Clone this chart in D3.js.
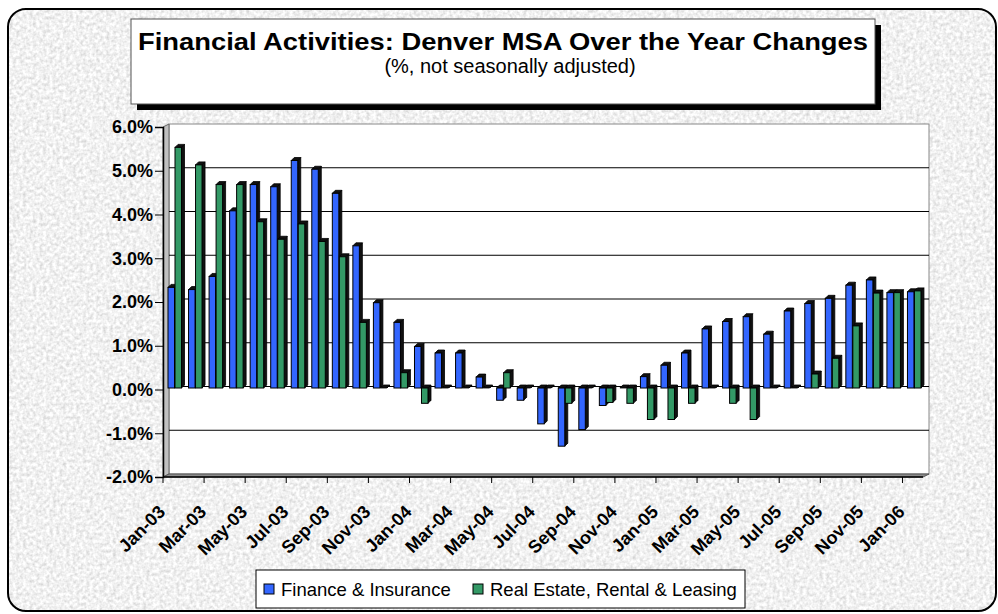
<!DOCTYPE html>
<html>
<head>
<meta charset="utf-8">
<script src="https://cdn.jsdelivr.net/npm/d3@7"></script>
<style>
  body { margin: 0; background: #fff; }
  text { font-family: "Liberation Sans", Arial, sans-serif; }
</style>
</head>
<body>
<div id="chart"></div>
<script>
// data
const months = ["Jan-03","Feb-03","Mar-03","Apr-03","May-03","Jun-03","Jul-03","Aug-03","Sep-03","Oct-03","Nov-03","Dec-03",
  "Jan-04","Feb-04","Mar-04","Apr-04","May-04","Jun-04","Jul-04","Aug-04","Sep-04","Oct-04","Nov-04","Dec-04",
  "Jan-05","Feb-05","Mar-05","Apr-05","May-05","Jun-05","Jul-05","Aug-05","Sep-05","Oct-05","Nov-05","Dec-05",
  "Jan-06"];
const financeInsurance = [2.3, 2.25, 2.55, 4.05, 4.65, 4.6, 5.2, 5.0, 4.45, 3.25, 1.95, 1.5,
  0.95, 0.8, 0.8, 0.25, -0.28, -0.28, -0.82, -1.33, -0.95, -0.4, 0, 0.26,
  0.52, 0.8, 1.35, 1.52, 1.63, 1.23, 1.76, 1.93, 2.05, 2.35, 2.47, 2.18, 2.2];
const realEstate = [5.5, 5.1, 4.65, 4.65, 3.8, 3.4, 3.75, 3.35, 3.0, 1.5, 0, 0.35,
  -0.35, 0, 0, 0, 0.35, 0, 0, -0.35, 0, -0.33, -0.35, -0.72,
  -0.72, -0.35, 0, -0.35, -0.72, 0, 0, 0.32, 0.68, 1.42, 2.17, 2.18, 2.22];
const seriesNames = ["Finance & Insurance", "Real Estate, Rental & Leasing"];
const yTicks = [-2, -1, 0, 1, 2, 3, 4, 5, 6];

const W = 998, H = 614;
const colors = ["#3366ff", "#339966"];

const svg = d3.select("#chart").append("svg")
    .attr("width", W).attr("height", H);

// background texture (speckled gray)
const defs = svg.append("defs");
const f = defs.append("filter").attr("id", "noise").attr("x", 0).attr("y", 0).attr("width", "100%").attr("height", "100%");
f.append("feTurbulence").attr("type", "fractalNoise").attr("baseFrequency", 0.3).attr("numOctaves", 2).attr("seed", 4);
f.append("feColorMatrix").attr("type", "matrix")
    .attr("values", "0.6 0 0 0 0.58  0.6 0 0 0 0.58  0.6 0 0 0 0.58  0 0 0 0 1");
defs.append("clipPath").attr("id", "outer")
    .append("rect").attr("x", 8).attr("y", 9).attr("width", 988).attr("height", 602).attr("rx", 18);

svg.append("rect").attr("x", 8).attr("y", 9).attr("width", 988).attr("height", 602)
    .attr("clip-path", "url(#outer)").attr("filter", "url(#noise)");
svg.append("rect").attr("x", 8).attr("y", 9).attr("width", 988).attr("height", 602).attr("rx", 18)
    .attr("fill", "none").attr("stroke", "#000").attr("stroke-width", 2);

// title box
svg.append("rect").attr("x", 137).attr("y", 25).attr("width", 744).attr("height", 85).attr("fill", "#000");
svg.append("rect").attr("x", 131).attr("y", 19).attr("width", 744).attr("height", 85)
    .attr("fill", "#fff").attr("stroke", "#555").attr("stroke-width", 1);
svg.append("text").attr("x", 503).attr("y", 50).attr("text-anchor", "middle")
    .attr("font-size", "24px").attr("font-weight", "bold").attr("fill", "#000")
    .attr("textLength", 730).attr("lengthAdjust", "spacingAndGlyphs")
    .text("Financial Activities: Denver MSA Over the Year Changes");
svg.append("text").attr("x", 510).attr("y", 73).attr("text-anchor", "middle")
    .attr("font-size", "20px").attr("fill", "#000")
    .text("(%, not seasonally adjusted)");

// plot geometry (front plane) and 3D depth offset
const x0 = 163, x1 = 923, dx = 6, dy = -3;
const x = d3.scaleBand().domain(months).range([x0, x1]).paddingInner(0).paddingOuter(0);
const y = d3.scaleLinear().domain([-2, 6]).range([477, 127]);

// walls
const g = svg.append("g");
g.append("rect").attr("x", x0 + dx).attr("y", y(6) + dy).attr("width", x1 - x0).attr("height", y(-2) - y(6))
    .attr("fill", "#fff").attr("stroke", "#888").attr("stroke-width", 1);
g.append("polygon")
    .attr("points", [[x0, y(6)], [x0 + dx, y(6) + dy], [x0 + dx, y(-2) + dy], [x0, y(-2)]].join(" "))
    .attr("fill", "#c0c0c0").attr("stroke", "#666").attr("stroke-width", 1);
g.append("polygon")
    .attr("points", [[x0, y(-2)], [x0 + dx, y(-2) + dy], [x1 + dx, y(-2) + dy], [x1, y(-2)]].join(" "))
    .attr("fill", "#8c8c8c").attr("stroke", "#555").attr("stroke-width", 1);

// gridlines on the back wall
g.selectAll(".grid").data(yTicks.filter(d => d > -2 && d < 6)).join("line")
    .attr("x1", x0 + dx).attr("x2", x1 + dx)
    .attr("y1", d => y(d) + dy).attr("y2", d => y(d) + dy)
    .attr("stroke", "#000").attr("stroke-width", 1);

// y axis on the front edge
const yAxis = svg.append("g").attr("transform", `translate(${x0},0)`)
    .call(d3.axisLeft(y).tickValues(yTicks).tickFormat(d => d.toFixed(1) + "%").tickSize(8).tickPadding(2));
yAxis.select(".domain").attr("stroke", "#000").attr("stroke-width", 1.5);
yAxis.selectAll(".tick line").attr("stroke", "#000");
yAxis.selectAll(".tick text").attr("font-size", "18px").attr("font-weight", "bold").attr("fill", "#000")
    .attr("font-family", "Liberation Sans, Arial, sans-serif");

// x axis ticks every 2 months, between categories
svg.append("line").attr("x1", x0).attr("x2", x1).attr("y1", y(-2)).attr("y2", y(-2))
    .attr("stroke", "#000").attr("stroke-width", 1.5);
svg.selectAll(".xtick").data(months.filter((d, i) => i % 2 === 0)).join("line")
    .attr("x1", d => x(d)).attr("x2", d => x(d))
    .attr("y1", y(-2)).attr("y2", y(-2) + 6)
    .attr("stroke", "#000");
svg.selectAll(".xlab").data(months.filter((d, i) => i % 2 === 0)).join("text")
    .attr("transform", d => `translate(${x(d) + x.bandwidth() / 2 - 7},513) rotate(-45)`)
    .attr("text-anchor", "end")
    .attr("font-size", "18px").attr("font-weight", "bold").attr("fill", "#000")
    .text(d => d);

// bars, drawn as simple 3D columns
const xSub = d3.scaleBand().domain(seriesNames).range([5, 19]).padding(0);
const bw = 6.5, bd = 3;
const yb = v => y(v) - 1.5;
const rows = [];
months.forEach((m, i) => {
  rows.push({ m: m, s: seriesNames[0], v: financeInsurance[i], c: colors[0] });
  rows.push({ m: m, s: seriesNames[1], v: realEstate[i], c: colors[1] });
});
const bars = svg.append("g").selectAll("g").data(rows).join("g")
    .attr("transform", d => `translate(${x(d.m) + xSub(d.s)},0)`);
bars.append("polygon")
    .attr("points", d => {
      const t = Math.min(yb(d.v), yb(0)), b = Math.max(yb(d.v), yb(0));
      return [[bw, t], [bw + bd, t - bd], [bw + bd, b - bd], [bw, b]].join(" ");
    })
    .attr("fill", "#111").attr("stroke", "#000").attr("stroke-width", 0.8);
bars.append("polygon")
    .attr("points", d => {
      const t = Math.min(yb(d.v), yb(0));
      return [[0, t], [bd, t - bd], [bw + bd, t - bd], [bw, t]].join(" ");
    })
    .attr("fill", "#111").attr("stroke", "#000").attr("stroke-width", 0.8);
bars.append("rect")
    .attr("x", 0).attr("width", bw)
    .attr("y", d => Math.min(yb(d.v), yb(0)))
    .attr("height", d => Math.abs(yb(d.v) - yb(0)))
    .attr("fill", d => d.c).attr("stroke", "#000").attr("stroke-width", 1);

// legend
const lg = svg.append("g");
lg.append("rect").attr("x", 256).attr("y", 570).attr("width", 489).attr("height", 38)
    .attr("fill", "#fff").attr("stroke", "#000").attr("stroke-width", 1);
const legX = [264, 473];
seriesNames.forEach((s, i) => {
  lg.append("rect").attr("x", legX[i]).attr("y", 584).attr("width", 10).attr("height", 10)
      .attr("fill", colors[i]).attr("stroke", "#000").attr("stroke-width", 1);
  lg.append("text").attr("x", legX[i] + 17).attr("y", 596)
      .attr("font-size", "18.5px").attr("fill", "#000").text(s);
});
</script>
</body>
</html>
